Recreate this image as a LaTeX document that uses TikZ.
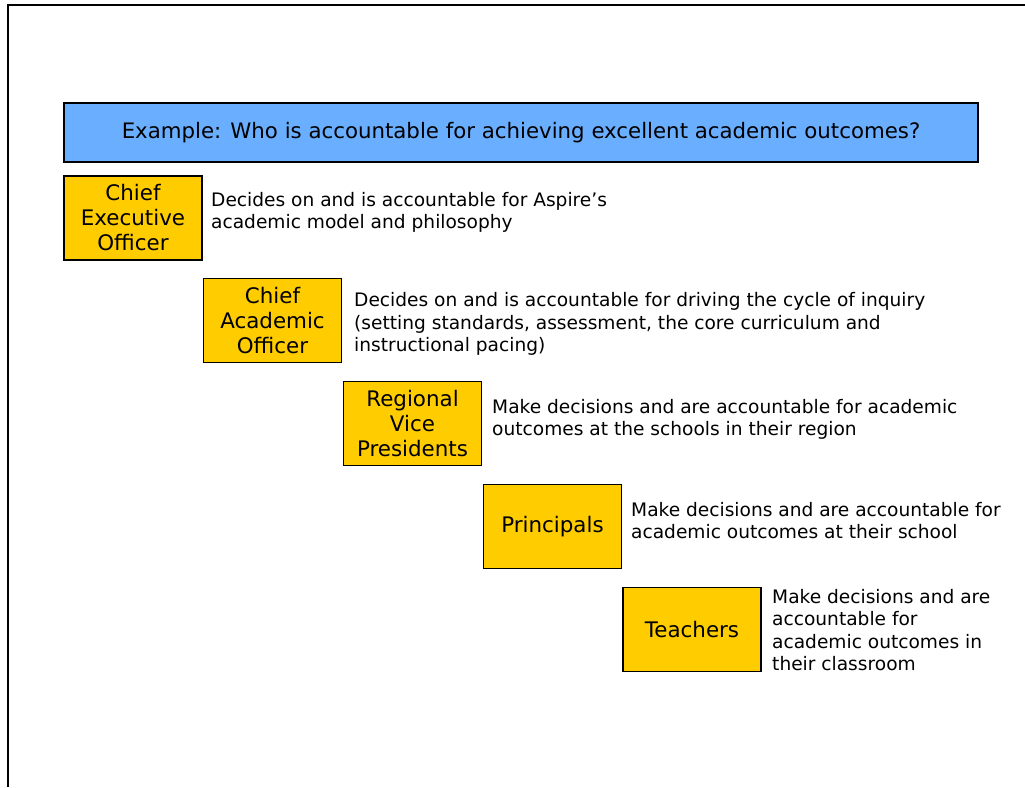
\documentclass[tikz,border=0pt]{standalone}
\usepackage{fontspec}
\setmainfont{DejaVu Sans}
\definecolor{titleblue}{HTML}{69AEFF}
\definecolor{roleyellow}{HTML}{FFCC00}
\begin{document}
\begin{tikzpicture}[x=1pt,y=1pt,
  rolebox/.style={draw=black,line width=1.8pt,fill=roleyellow,minimum width=138pt,minimum height=84pt,inner sep=0pt,align=center,font=\fontsize{21.4}{25}\selectfont},
  desc/.style={anchor=west,inner sep=0pt,align=left,font=\fontsize{18.6}{22.5}\selectfont}]
\useasboundingbox (0,0) rectangle (1025,787);
\draw[line width=2.4pt] (8,0) -- (8,782) -- (1025,782);
\node[draw=black,line width=1.8pt,fill=titleblue,minimum width=914pt,minimum height=59pt,inner sep=0pt,font=\fontsize{21.3}{25}\selectfont] (title) at (521,654.5) {Example: Who is accountable for achieving excellent academic outcomes?};
\node[rolebox] (ceo) at (133,569) {Chief\\Executive\\Officer};
\node[rolebox] (cao) at (272.5,466.5) {Chief\\Academic\\Officer};
\node[rolebox] (rvp) at (412.5,363.5) {Regional\\Vice\\Presidents};
\node[rolebox] (pri) at (552.5,260.5) {Principals};
\node[rolebox] (tea) at (692,157.5) {Teachers};
\node[desc] (dceo) at (211,574.5) {Decides on and is accountable for Aspire’s\\academic model and philosophy};
\node[desc] (dcao) at (354,463) {Decides on and is accountable for driving the cycle of inquiry\\(setting standards, assessment, the core curriculum and\\instructional pacing)};
\node[desc] (drvp) at (492,367.5) {Make decisions and are accountable for academic\\outcomes at the schools in their region};
\node[desc] (dpri) at (631,266.5) {Make decisions and are accountable for\\academic outcomes at their school};
\node[desc] (dtea) at (772,157) {Make decisions and are\\accountable for\\academic outcomes in\\their classroom};
\end{tikzpicture}
\end{document}
